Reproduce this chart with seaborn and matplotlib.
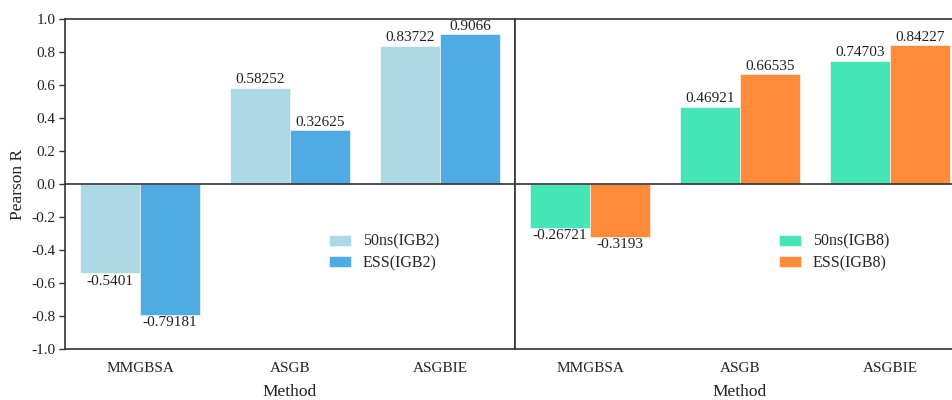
#!/usr/bin/env python3

import matplotlib
matplotlib.use('Agg')
import matplotlib.pyplot as plt
import seaborn as sns
import pandas as pd


METHODS = ['MMGBSA', 'ASGB', 'ASGBIE']
IGB2_50NS = [-0.5401, 0.58252, 0.83722]
IGB2_ESS = [-0.79181, 0.32625, 0.9066]
IGB8_50NS = [-0.26721, 0.46921, 0.74703]
IGB8_ESS = [-0.3193, 0.66535, 0.84227]
IGB2_LABELS = ['50ns(IGB2)', 'ESS(IGB2)']
IGB8_LABELS = ['50ns(IGB8)', 'ESS(IGB8)']
IGB2_COLORS = ['#add8e6', '#50aae4']
IGB8_COLORS = ['#45e5b5', '#ff8b3b']
Y_TICKS = [-1.0, -0.8, -0.6, -0.4, -0.2, 0.0, 0.2, 0.4, 0.6, 0.8, 1.0]
SPINE = '#333333'
TEXT = '#222222'


def make_df(first, second, labels):
    rows = []
    for m, a, b in zip(METHODS, first, second):
        rows.append({'Method': m, 'Run': labels[0], 'R': a})
        rows.append({'Method': m, 'Run': labels[1], 'R': b})
    return pd.DataFrame(rows)


def panel(ax, df, labels, colors):
    sns.barplot(data=df, x='Method', y='R', hue='Run', hue_order=labels,
                palette=colors, width=0.8, ax=ax, saturation=1,
                edgecolor='white', linewidth=0.4)
    for cont, lab in zip(ax.containers, labels):
        vals = df.loc[df['Run'] == lab, 'R'].tolist()
        ax.bar_label(cont, labels=[f'{v:g}' for v in vals], padding=1,
                     fontsize=11, color=TEXT)
    ax.axhline(0, color=SPINE, lw=1.2, zorder=3)
    ax.set_xlim(-0.5, 2.5)
    ax.set_ylim(-1.0, 1.0)
    ax.set_xlabel('Method', fontsize=12.5, color=TEXT, labelpad=7)
    ax.tick_params(axis='x', length=4, width=1, color=SPINE, labelsize=11,
                   labelcolor=TEXT, pad=5)
    for s in ax.spines.values():
        s.set_visible(True)
        s.set_color(SPINE)
        s.set_linewidth(1.2)
    ax.legend(loc='center left', bbox_to_anchor=(0.555, 0.292), frameon=False,
              fontsize=11.5, handlelength=1.4, handleheight=0.7,
              labelspacing=0.35, handletextpad=0.7)


def main():
    sns.set_style('white')
    plt.rcParams['font.family'] = ['Liberation Serif', 'DejaVu Serif']
    fig = plt.figure(figsize=(9.53, 4.0), dpi=100)
    ax1 = fig.add_axes([65 / 953, 51 / 400, 450 / 953, 330 / 400])
    ax2 = fig.add_axes([515 / 953, 51 / 400, 450 / 953, 330 / 400])

    panel(ax1, make_df(IGB2_50NS, IGB2_ESS, IGB2_LABELS), IGB2_LABELS, IGB2_COLORS)
    panel(ax2, make_df(IGB8_50NS, IGB8_ESS, IGB8_LABELS), IGB8_LABELS, IGB8_COLORS)

    ax1.set_yticks(Y_TICKS)
    ax1.set_yticklabels([f'{t:.1f}' for t in Y_TICKS])
    ax1.tick_params(axis='y', length=4, width=1, color=SPINE, labelsize=11,
                    labelcolor=TEXT, left=True, pad=3)
    ax1.set_ylabel('Pearson R', fontsize=12.5, color=TEXT, labelpad=4)
    ax2.set_yticks([])
    ax2.set_ylabel('')

    fig.savefig('out.png', dpi=100)


if __name__ == '__main__':
    main()
